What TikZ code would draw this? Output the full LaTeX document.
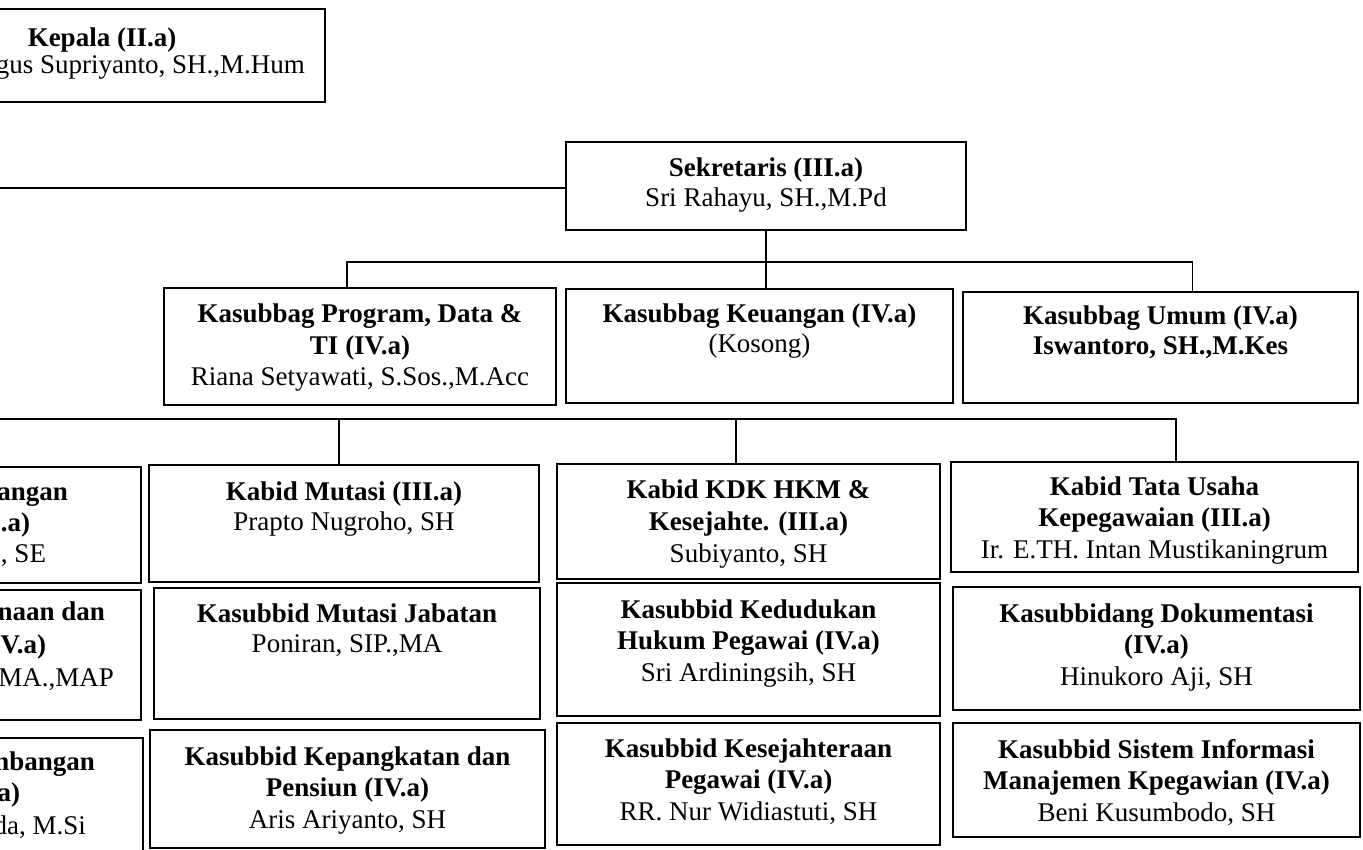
\documentclass[tikz,border=0pt]{standalone}
\usepackage{fontspec}
\setmainfont{Liberation Serif}
\usetikzlibrary{calc}
\tikzset{
  box/.style={draw=black, line width=1.7pt, rectangle, inner sep=0pt, outer sep=0pt},
  txt/.style={inner sep=0pt, outer sep=0pt, font=\fontsize{27}{31.5}\selectfont},
  conn/.style={draw=black, line width=1.7pt},
}
% #1 stretch, #2 name, #3 x1, #4 y1, #5 x2, #6 y2, #7 first baseline, #8 text
\newcommand\ob[8][1]{%
  \node[box, minimum width={#5-(#3)}, minimum height={#6-(#4)}] (#2) at ({(#3+#5)/2},{-(#4+#6)/2}) {};
  \node[txt, anchor=base] (#2t) at ({(#3+#5)/2},{-(#7)}) {\renewcommand\arraystretch{#1}\begin{tabular}[t]{@{}c@{}}#8\end{tabular}};
}
\begin{document}
\begin{tikzpicture}[x=1pt,y=1pt]
\useasboundingbox (0,0) rectangle (1363,-850);
\fill[white] (0,0) rectangle (1363,-850);

% Kepala
\node[box, minimum width=365, minimum height=93] (kepala) at (142.5,-55.5) {};
\node[txt, anchor=base] (kepala1) at (102,-47) {\bfseries Kepala (II.a)};
\node[txt, anchor=base east] (kepala2) at (305,-74) {gus Supriyanto, SH.,M.Hum};

% Sekretaris
\ob[0.952]{sek}{566}{142}{966}{230}{177}{\textbf{Sekretaris (III.a)}\\Sri Rahayu, SH.,M.Pd}

% Kasubbag row
\ob{prog}{164}{288}{556}{405}{323}{\textbf{Kasubbag Program, Data \&}\\\textbf{TI (IV.a)}\\Riana Setyawati, S.Sos.,M.Acc}
\ob[0.952]{keu}{566}{289}{953}{403}{323}{\textbf{Kasubbag Keuangan (IV.a)}\\(Kosong)}
\ob[0.952]{umum}{963}{292}{1358}{403}{325}{\textbf{Kasubbag Umum (IV.a)}\\\textbf{Iswantoro, SH.,M.Kes}}

% Column 1 (cut off at the left edge)
\node[box, minimum width=181, minimum height=116] (c1a) at (50.5,-525) {};
\node[box, minimum width=181, minimum height=130] (c1b) at (50.5,-655) {};
\node[box, minimum width=183, minimum height=152] (c1c) at (51.5,-814) {};
\node[txt, anchor=base east] (c1a1) at (68,-500) {\bfseries bangan};
\node[txt, anchor=base east] (c1a2) at (30,-531) {\bfseries I.a)};
\node[txt, anchor=base east] (c1a3) at (46,-562) {, SE};
\node[txt, anchor=base east] (c1b1) at (105,-620) {\bfseries naan dan};
\node[txt, anchor=base east] (c1b2) at (46,-653) {\bfseries V.a)};
\node[txt, anchor=base east] (c1b3) at (114,-686) {MA.,MAP};
\node[txt, anchor=base east] (c1c1) at (95,-770) {\bfseries mbangan};
\node[txt, anchor=base east] (c1c2) at (20,-801) {\bfseries .a)};
\node[txt, anchor=base east] (c1c3) at (86,-834) {da, M.Si};

% Column 2
\ob[0.984]{mut}{149}{465}{539}{582}{500}{\textbf{Kabid Mutasi (III.a)}\\Prapto Nugroho, SH}
\ob[0.984]{mutj}{154}{588}{540}{719}{622}{\textbf{Kasubbid Mutasi Jabatan}\\Poniran, SIP.,MA}
\ob{kep}{150}{730}{545}{848}{765}{\textbf{Kasubbid Kepangkatan dan}\\\textbf{Pensiun (IV.a)}\\Aris Ariyanto, SH}

% Column 3
\ob[1.016]{kdk}{557}{464}{940}{579}{498}{\textbf{Kabid KDK HKM \&}\\\textbf{Kesejahte. (III.a)}\\Subiyanto, SH}
\ob{ked}{557}{583}{940}{716}{618}{\textbf{Kasubbid Kedudukan}\\\textbf{Hukum Pegawai (IV.a)}\\Sri Ardiningsih, SH}
\ob{kes}{557}{723}{940}{845}{757}{\textbf{Kasubbid Kesejahteraan}\\\textbf{Pegawai (IV.a)}\\RR. Nur Widiastuti, SH}

% Column 4
\ob{tu}{951}{462}{1358}{572}{495}{\textbf{Kabid Tata Usaha}\\\textbf{Kepegawaian (III.a)}\\Ir. E.TH. Intan Mustikaningrum}
\ob{dok}{953}{587}{1360}{710}{622}{\textbf{Kasubbidang Dokumentasi}\\\textbf{(IV.a)}\\Hinukoro Aji, SH}
\ob{sim}{953}{723}{1360}{837}{758}{\textbf{Kasubbid Sistem Informasi}\\\textbf{Manajemen Kpegawian (IV.a)}\\Beni Kusumbodo, SH}

% Connectors
\coordinate (kin) at (0,-188);
\coordinate (b2) at (0,-419);
\draw[conn] (kin) -- (kin -| sek.west);
\draw[conn] (sek.south) -- (sek.south |- keu.north);
\draw[conn] ([xshift=-13]prog.north) -- ++(0,26) -| ([xshift=32]umum.north);
\draw[conn] (b2) -| ([xshift=21.5]tu.north);
\draw[conn] ([xshift=-5]mut.north) -- ([xshift=-5]mut.north |- b2);
\draw[conn] ([xshift=-12.5]kdk.north) -- ([xshift=-12.5]kdk.north |- b2);
\end{tikzpicture}
\end{document}
